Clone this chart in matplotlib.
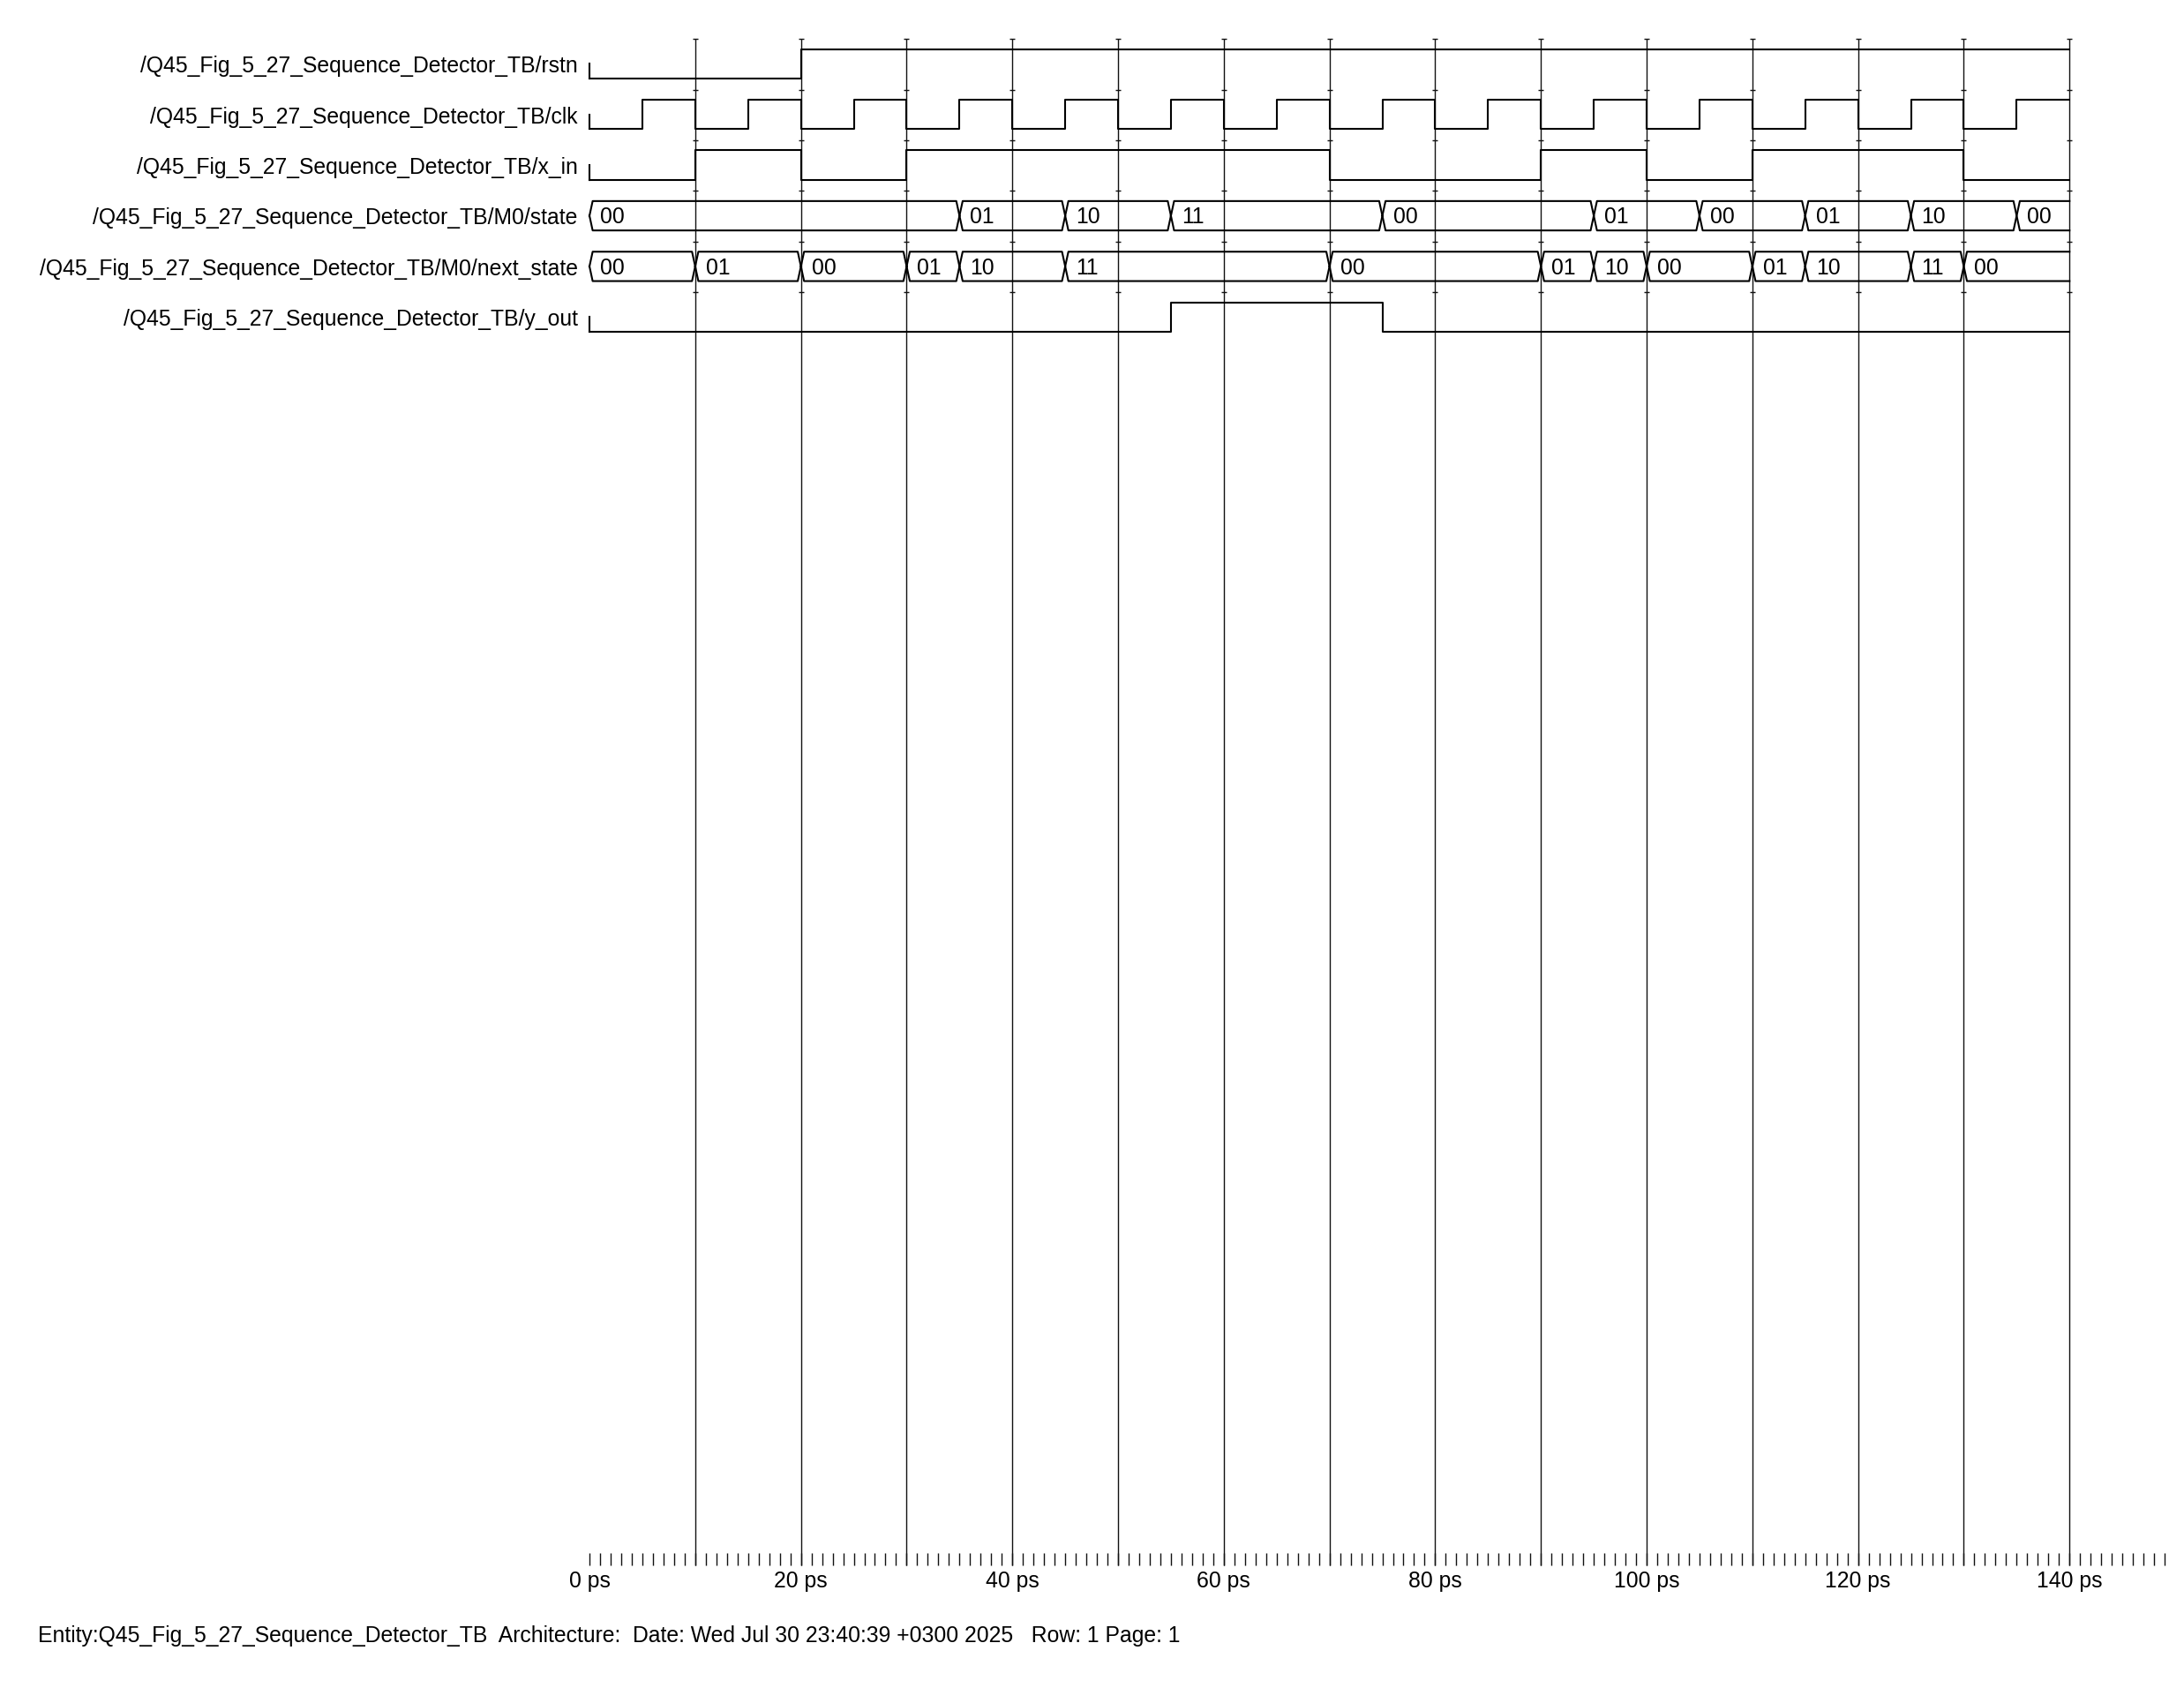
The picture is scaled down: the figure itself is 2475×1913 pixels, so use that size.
import numpy as np
import matplotlib
matplotlib.use('Agg')
import matplotlib.pyplot as plt

plt.rcParams['font.family'] = ['Liberation Sans', 'DejaVu Sans']

# signal names (top to bottom)
signals = ['/Q45_Fig_5_27_Sequence_Detector_TB/rstn',
           '/Q45_Fig_5_27_Sequence_Detector_TB/clk',
           '/Q45_Fig_5_27_Sequence_Detector_TB/x_in',
           '/Q45_Fig_5_27_Sequence_Detector_TB/M0/state',
           '/Q45_Fig_5_27_Sequence_Detector_TB/M0/next_state',
           '/Q45_Fig_5_27_Sequence_Detector_TB/y_out']

t_end = 140  # ps

rstn_t = [0, 20]
rstn_v = [0, 1]
clk_t = [0, 5, 10, 15, 20, 25, 30, 35, 40, 45, 50, 55, 60, 65, 70, 75, 80, 85,
         90, 95, 100, 105, 110, 115, 120, 125, 130, 135]
clk_v = [0, 1, 0, 1, 0, 1, 0, 1, 0, 1, 0, 1, 0, 1, 0, 1, 0, 1,
         0, 1, 0, 1, 0, 1, 0, 1, 0, 1]
x_in_t = [0, 10, 20, 30, 70, 90, 100, 110, 130]
x_in_v = [0, 1, 0, 1, 0, 1, 0, 1, 0]
y_out_t = [0, 55, 75]
y_out_v = [0, 1, 0]

state_t = [0, 35, 45, 55, 75, 95, 105, 115, 125, 135]
state_v = ['00', '01', '10', '11', '00', '01', '00', '01', '10', '00']
next_t = [0, 10, 20, 30, 35, 45, 70, 90, 95, 100, 110, 115, 125, 130]
next_v = ['00', '01', '00', '01', '10', '11', '00', '01', '10', '00', '01', '10', '11', '00']

grid_t = [10, 20, 30, 40, 50, 60, 70, 80, 90, 100, 110, 120, 130, 140]
ruler_t = np.arange(0, 150)
ruler_labels = [0, 20, 40, 60, 80, 100, 120, 140]

footer = 'Entity:Q45_Fig_5_27_Sequence_Detector_TB  Architecture:  Date: Wed Jul 30 23:40:39 +0300 2025   Row: 1 Page: 1'

amp = 0.29
fs = 17.8
lw_sig = 1.5
lw_grid = 1.0

fig = plt.figure(figsize=(24.75, 19.13), dpi=100)
ax = fig.add_axes([0, 0, 1, 1])
ax.set_xlim(-55.76, 150.83)
ax.set_ylim(32.07, -1.26)
ax.axis('off')


def draw_bit(row, ts, vs):
    lo, hi = row + amp, row - amp
    lv = [hi if v else lo for v in vs]
    ax.step(list(ts) + [t_end], lv + [lv[-1]], where='post', color='black', lw=lw_sig)
    ax.plot([0, 0], [row, lo], color='black', lw=lw_sig)


def draw_bus(row, ts, vs, d=0.3):
    lo, hi = row + amp, row - amp
    ends = list(ts[1:]) + [t_end]
    for k, (t0, t1, v) in enumerate(zip(ts, ends, vs)):
        if k == len(vs) - 1:
            xs = [t1, t0 + d, t0, t0 + d, t1]
            ys = [hi, hi, row, lo, lo]
        else:
            xs = [t0, t0 + d, t1 - d, t1, t1 - d, t0 + d, t0]
            ys = [row, hi, hi, row, lo, lo, row]
        ax.plot(xs, ys, color='black', lw=lw_sig)
        ax.text(t0 + 1.0, row + 0.03, v, fontsize=fs, ha='left', va='center')


# grid lines + little marks at row boundaries
ax.vlines(grid_t, -0.49, 29.65, color='#111111', lw=lw_grid)
for i in range(len(signals)):
    ax.plot(grid_t, [i - 0.49] * len(grid_t), ls='none', marker='_', ms=4,
            mew=1.0, color='#111111')

draw_bit(0, rstn_t, rstn_v)
draw_bit(1, clk_t, clk_v)
draw_bit(2, x_in_t, x_in_v)
draw_bus(3, state_t, state_v)
draw_bus(4, next_t, next_v)
draw_bit(5, y_out_t, y_out_v)

for i, name in enumerate(signals):
    ax.text(-1.1, i + 0.05, name, fontsize=fs, ha='right', va='center')

# time ruler
ax.vlines(ruler_t, 29.40, 29.65, color='#111111', lw=lw_grid)
for t in ruler_labels:
    ax.text(t, 29.96, '%d ps' % t, fontsize=fs, ha='center', va='center')

ax.text(-52.2, 31.04, footer, fontsize=fs, ha='left', va='center')

fig.savefig('out.png', dpi=100, facecolor='white')
